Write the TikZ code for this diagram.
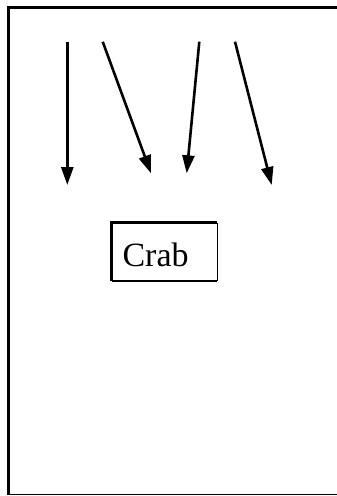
\documentclass[tikz,border=0pt]{standalone}
\usepackage{fontspec}
\setmainfont{Liberation Serif}
\usetikzlibrary{arrows.meta}
\begin{document}
\begin{tikzpicture}[x=1pt,y=-1pt,
  arr/.style={line width=2.6pt,-{Triangle[length=18pt,width=12pt]}},
  frameline/.style={line width=3.2pt},
  thinline/.style={line width=1.6pt}]
\useasboundingbox (0,0) rectangle (337,496);
% outer frame
\draw[frameline] (8.5,495) -- (8.5,7.5) -- (337,7.5);
\draw[thinline] (7,494.5) -- (337,494.5);
% Crab box
\node[inner sep=0pt, inner xsep=10.5pt, text width=84pt, align=left,
      text height=29.4pt, text depth=0pt,
      minimum width=105pt, minimum height=58pt,
      font=\fontsize{34}{40}\selectfont] (crab) at (164.5,252) {Crab};
\draw[line width=2.8pt] (crab.south west) -- (crab.north west) -- (crab.north east);
\draw[line width=2.4pt] (crab.south west) -- (crab.south east);
\draw[line width=1.3pt] (crab.south east) -- (crab.north east);
% arrows
\coordinate (a1s) at (67.3,41.7);  \coordinate (a1e) at (67.3,185);
\coordinate (a2s) at (102.7,41.7); \coordinate (a2e) at (151,173.3);
\coordinate (a3s) at (199.3,41.7); \coordinate (a3e) at (186.7,173.3);
\coordinate (a4s) at (235,41.7);   \coordinate (a4e) at (271.7,185);
\draw[arr] (a1s) -- (a1e);
\draw[arr] (a2s) -- (a2e);
\draw[arr] (a3s) -- (a3e);
\draw[arr] (a4s) -- (a4e);
\end{tikzpicture}
\end{document}
